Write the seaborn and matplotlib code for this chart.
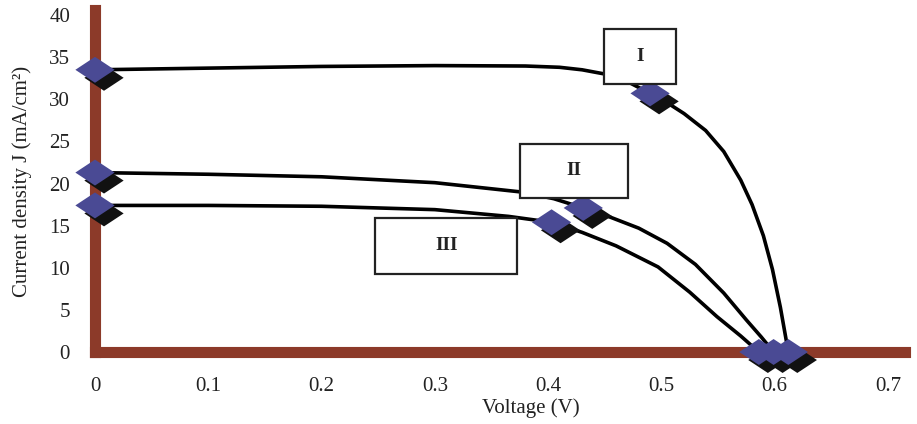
import pandas as pd
import numpy as np
import matplotlib
matplotlib.use("Agg")
import matplotlib.pyplot as plt
import seaborn as sns
from matplotlib.transforms import offset_copy

# curve points (voltage V, current density mA/cm2)
v_1 = [0, 0.1, 0.2, 0.3, 0.38, 0.41, 0.43, 0.45, 0.47, 0.49, 0.505, 0.52, 0.539,
       0.555, 0.57, 0.58, 0.59, 0.598, 0.605, 0.612]
j_1 = [33.5, 33.7, 33.9, 34.0, 33.95, 33.8, 33.5, 33.0, 32.1, 30.7, 29.6, 28.3, 26.3,
       23.8, 20.4, 17.5, 13.8, 9.8, 5.3, 0]
v_2 = [0, 0.1, 0.2, 0.3, 0.376, 0.405, 0.431, 0.455, 0.48, 0.505, 0.53, 0.555, 0.575,
       0.588, 0.599]
j_2 = [21.3, 21.1, 20.8, 20.1, 19.0, 18.2, 17.1, 16.0, 14.7, 12.9, 10.4, 7.0, 3.8,
       1.8, 0]
v_3 = [0, 0.1, 0.2, 0.3, 0.365, 0.403, 0.43, 0.46, 0.497, 0.525, 0.549, 0.57, 0.586]
j_3 = [17.4, 17.4, 17.3, 16.9, 16.1, 15.4, 14.2, 12.6, 10.1, 7.1, 4.2, 1.9, 0]

# measured points (the diamond markers)
mark_v = [0, 0.49, 0.612, 0, 0.431, 0.599, 0, 0.403, 0.586]
mark_j = [33.5, 30.7, 0, 21.3, 17.1, 0, 17.4, 15.4, 0]
mark_cell = ["I", "I", "I", "II", "II", "II", "III", "III", "III"]

cell_names = ["I", "II", "III"]
label_v = [0.481, 0.423, 0.31]
label_j = [35.1, 21.5, 12.6]
box_w = [0.064, 0.095, 0.125]
box_h = [6.6, 6.5, 6.6]

x_ticks = [0, 0.1, 0.2, 0.3, 0.4, 0.5, 0.6, 0.7]
y_ticks = [0, 5, 10, 15, 20, 25, 30, 35, 40]

curves = pd.concat([
    pd.DataFrame({"V": v_1, "J": j_1, "cell": "I"}),
    pd.DataFrame({"V": v_2, "J": j_2, "cell": "II"}),
    pd.DataFrame({"V": v_3, "J": j_3, "cell": "III"}),
])
marks = pd.DataFrame({"V": mark_v, "J": mark_j, "cell": mark_cell})

sns.set_style("white")
plt.rcParams["font.family"] = ["Liberation Serif", "DejaVu Serif"]

brown = "#8c3a29"
blue = "#4a4a94"
text_col = "#222222"

fig = plt.figure(figsize=(9.17, 4.24), dpi=100)
ax = fig.add_axes([95 / 917, 72 / 424, 810 / 917, 342 / 424])

sns.lineplot(data=curves, x="V", y="J", units="cell", estimator=None, sort=False,
             color="black", linewidth=2.6, ax=ax, zorder=2, clip_on=False)

diamond = [(-1, 0), (0, 0.66), (1, 0), (0, -0.66), (-1, 0)]
# shadow of the diamonds
sns.scatterplot(data=marks, x="V", y="J", marker=diamond, s=800, color="#111111",
                edgecolor="none", ax=ax, zorder=3, legend=False, clip_on=False)
ax.collections[-1].set_offset_transform(offset_copy(ax.transData, fig=fig, x=9, y=-8, units="dots"))
sns.scatterplot(data=marks, x="V", y="J", marker=diamond, s=800, color=blue,
                edgecolor="none", ax=ax, zorder=4, legend=False, clip_on=False)

for name, lv, lj, w, h in zip(cell_names, label_v, label_j, box_w, box_h):
    ax.text(lv, lj, name, ha="center", va="center", fontsize=14, fontweight="bold",
            color=text_col, zorder=6)
    ax.add_patch(plt.Rectangle((lv - w / 2, lj - h / 2), w, h, facecolor="white",
                               edgecolor="#222222", linewidth=1.6, zorder=5))

ax.set_xlim(0, 0.715)
ax.set_ylim(0, 40.6)
ax.set_xticks(x_ticks)
ax.set_xticklabels(["0", "0.1", "0.2", "0.3", "0.4", "0.5", "0.6", "0.7"])
ax.set_yticks(y_ticks)
ax.tick_params(length=0, labelsize=15, pad=18, labelcolor=text_col)
ax.set_xlabel("Voltage (V)", fontsize=15, color=text_col)
ax.set_ylabel("Current density J (mA/cm²)", fontsize=15, labelpad=12, color=text_col)
ax.xaxis.set_label_coords(0.538, -0.135)

for side in ["top", "right"]:
    ax.spines[side].set_visible(False)
for side in ["left", "bottom"]:
    ax.spines[side].set_color(brown)
    ax.spines[side].set_linewidth(8)
    ax.spines[side].set_zorder(1)

fig.savefig("out.png", dpi=100)
